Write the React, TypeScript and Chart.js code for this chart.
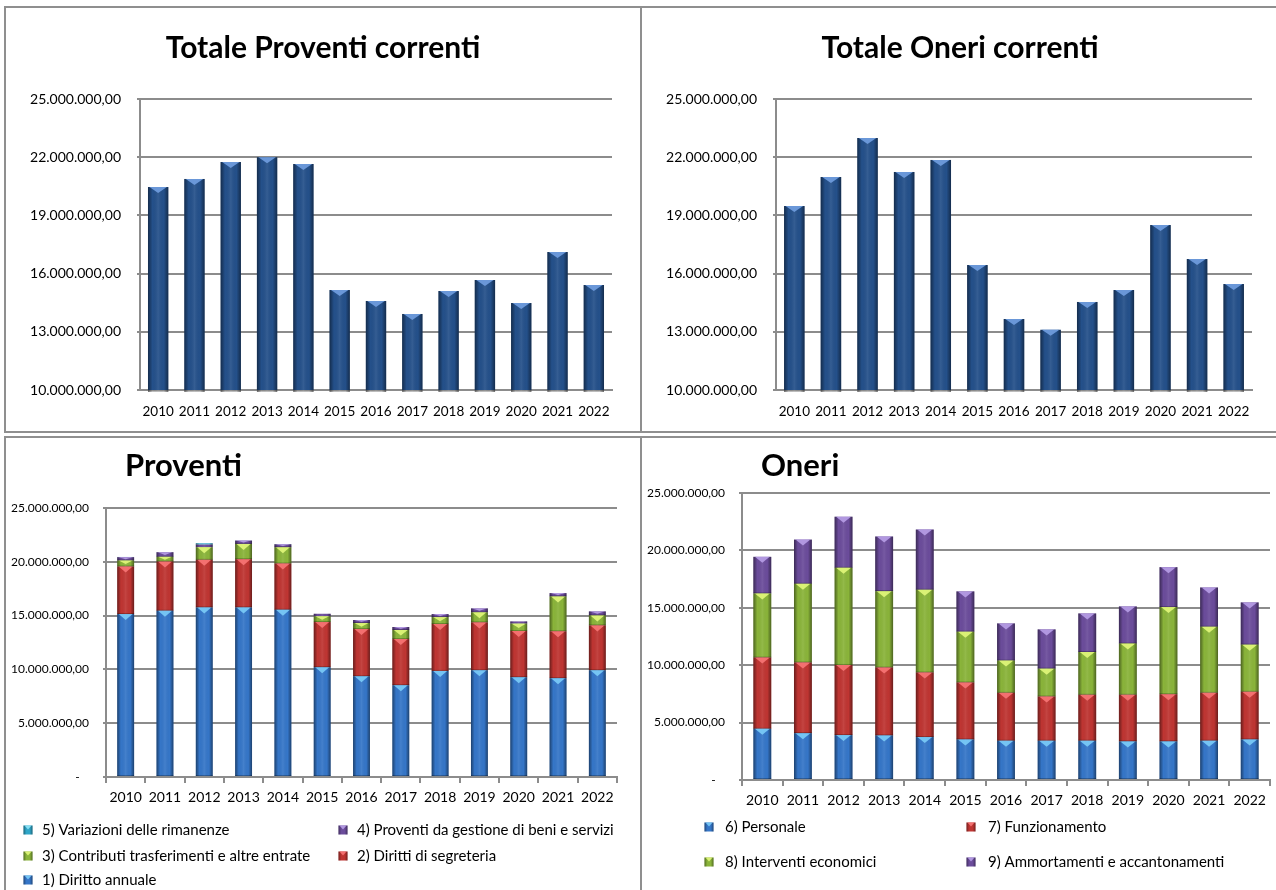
import React, { useEffect, useRef } from "react";
import { Chart, registerables } from "chart.js";

Chart.register(...registerables);
Chart.defaults.font.family = 'Lato, "Open Sans", sans-serif';
Chart.defaults.color = "#000";

// ---------------- DATA ----------------
const YEARS = ["2010", "2011", "2012", "2013", "2014", "2015", "2016", "2017", "2018", "2019", "2020", "2021", "2022"];

const TOTALE_PROVENTI = [20460000, 20880000, 21750000, 22000000, 21650000, 15150000, 14590000, 13920000, 15100000, 15670000, 14480000, 17110000, 15410000];
const TOTALE_ONERI = [19480000, 20980000, 22990000, 21240000, 21860000, 16440000, 13660000, 13100000, 14540000, 15150000, 18500000, 16750000, 15460000];

// Proventi (stacked)
const DIRITTO_ANNUALE = [15140000, 15450000, 15760000, 15760000, 15540000, 10200000, 9360000, 8530000, 9860000, 9920000, 9270000, 9180000, 9920000];
const DIRITTI_SEGRETERIA = [4420000, 4570000, 4420000, 4480000, 4300000, 4200000, 4390000, 4290000, 4360000, 4450000, 4300000, 4360000, 4170000];
const CONTRIBUTI = [560000, 440000, 1170000, 1420000, 1510000, 530000, 560000, 840000, 640000, 930000, 680000, 3240000, 930000];
const PROVENTI_GESTIONE = [310000, 430000, 250000, 310000, 280000, 240000, 280000, 280000, 280000, 370000, 210000, 310000, 370000];
const VARIAZIONI = [20000, 10000, 120000, 10000, 20000, -80000, -80000, -80000, -60000, -60000, -80000, -80000, -60000];

// Oneri (stacked)
const PERSONALE = [4460000, 4080000, 3910000, 3880000, 3740000, 3530000, 3420000, 3420000, 3420000, 3360000, 3360000, 3420000, 3530000];
const FUNZIONAMENTO = [6200000, 6150000, 6110000, 5910000, 5620000, 4960000, 4170000, 3850000, 4000000, 4060000, 4110000, 4170000, 4150000];
const INTERVENTI = [5590000, 6860000, 8460000, 6660000, 7210000, 4430000, 2810000, 2430000, 3730000, 4460000, 7590000, 5760000, 4110000];
const AMMORTAMENTI = [3190000, 3850000, 4460000, 4760000, 5240000, 3510000, 3240000, 3420000, 3360000, 3240000, 3480000, 3420000, 3680000];

// ---------------- STYLE ----------------
const GRID = "#8c8c8c";
const FAMILY = 'Lato, "Open Sans", sans-serif';
const NAVY = "#24508a";
const NAVY_TRI = "rgba(110,155,220,0.95)";
const BLUE = "#3576c8";
const BLUE_TRI = "rgba(120,200,245,0.95)";
const RED = "#bf3532";
const RED_TRI = "rgba(245,115,115,0.95)";
const GREEN = "#8ab43a";
const GREEN_TRI = "rgba(222,244,120,0.95)";
const PURPLE = "#6b4c9b";
const PURPLE_TRI = "rgba(180,155,228,0.95)";
const TEAL = "#2fa6c8";
const TEAL_TRI = "rgba(140,225,245,0.95)";

function itFormat(v: number): string {
  if (Math.abs(v) < 1e-6) return "-   ";
  const s = Math.round(Math.abs(v)).toString().replace(/\B(?=(\d{3})+(?!\d))/g, ".");
  return (v < 0 ? "-" : "") + s + ",00";
}

// bevel look on bars (drawn on the elements computed by Chart.js)
const bevelPlugin = {
  id: "bevel",
  afterDatasetsDraw(chart: any) {
    const ctx = chart.ctx;
    const area = chart.chartArea;
    ctx.save();
    ctx.beginPath();
    ctx.rect(area.left, area.top - 2, area.right - area.left, area.bottom - area.top + 4);
    ctx.clip();
    chart.data.datasets.forEach((ds: any, i: number) => {
      const meta = chart.getDatasetMeta(i);
      if (meta.hidden) return;
      meta.data.forEach((el: any) => {
        const { x, y, base, width } = el.getProps(["x", "y", "base", "width"], true);
        const top = Math.max(Math.min(y, base), area.top - 2);
        const bot = Math.min(Math.max(y, base), area.bottom + 2);
        const h = bot - top;
        if (h < 0.5) return;
        const l = x - width / 2;
        const r = x + width / 2;
        const g = ctx.createLinearGradient(l, 0, r, 0);
        g.addColorStop(0, "rgba(0,0,0,0.45)");
        g.addColorStop(0.22, "rgba(0,0,0,0.0)");
        g.addColorStop(0.5, "rgba(255,255,255,0.08)");
        g.addColorStop(0.78, "rgba(0,0,0,0.0)");
        g.addColorStop(1, "rgba(0,0,0,0.45)");
        ctx.fillStyle = g;
        ctx.fillRect(l, top, width, h);
        if (ds.bevelColor && h > 3 && y <= base) {
          const th = Math.min(6, h * 0.6);
          ctx.fillStyle = ds.bevelColor;
          ctx.beginPath();
          ctx.moveTo(l + 1.5, top);
          ctx.lineTo(r - 1.5, top);
          ctx.lineTo(x, top + th);
          ctx.closePath();
          ctx.fill();
          ctx.fillStyle = "rgba(0,0,0,0.25)";
          ctx.fillRect(l, bot - 1, width, 1);
        }
      });
    });
    ctx.restore();
  },
};

function makeTitle(text: string, x: number, y: number, align: CanvasTextAlign, size: number) {
  return {
    id: "panelTitle",
    afterDraw(chart: any) {
      const ctx = chart.ctx;
      ctx.save();
      ctx.font = `bold ${size}px ${FAMILY}`;
      ctx.fillStyle = "#000";
      ctx.textAlign = align;
      ctx.textBaseline = "middle";
      ctx.fillText(text, x, y);
      ctx.restore();
    },
  };
}

type LegendItem = { ds: number; mx: number; tx: number; y: number };
function makeLegend(items: LegendItem[], size: number) {
  return {
    id: "gridLegend",
    afterDraw(chart: any) {
      const ctx = chart.ctx;
      ctx.save();
      items.forEach((it) => {
        const ds = chart.data.datasets[it.ds];
        const s = 9;
        const l = it.mx - s / 2;
        const t = it.y - s / 2;
        ctx.fillStyle = ds.backgroundColor;
        ctx.fillRect(l, t, s, s);
        const g = ctx.createLinearGradient(l, 0, l + s, 0);
        g.addColorStop(0, "rgba(0,0,0,0.4)");
        g.addColorStop(0.3, "rgba(0,0,0,0)");
        g.addColorStop(0.7, "rgba(0,0,0,0)");
        g.addColorStop(1, "rgba(0,0,0,0.4)");
        ctx.fillStyle = g;
        ctx.fillRect(l, t, s, s);
        ctx.fillStyle = ds.bevelColor;
        ctx.beginPath();
        ctx.moveTo(l + 1, t);
        ctx.lineTo(l + s - 1, t);
        ctx.lineTo(it.mx, t + 4);
        ctx.closePath();
        ctx.fill();
        ctx.font = `${size}px ${FAMILY}`;
        ctx.fillStyle = "#000";
        ctx.textAlign = "left";
        ctx.textBaseline = "middle";
        ctx.fillText(ds.label, it.tx, it.y);
      });
      ctx.restore();
    },
  };
}

function topConfig(title: string, data: number[], padRight: number, yWidth: number): any {
  return {
    type: "bar",
    data: {
      labels: YEARS,
      datasets: [
        {
          label: title,
          data,
          backgroundColor: NAVY,
          bevelColor: NAVY_TRI,
          barPercentage: 0.56,
          categoryPercentage: 1,
        },
      ],
    },
    options: {
      animation: false,
      responsive: false,
      layout: { padding: { top: 89, right: padRight, bottom: 0, left: 0 } },
      plugins: { legend: { display: false }, tooltip: { enabled: false }, title: { display: false } },
      scales: {
        x: {
          grid: { display: false },
          border: { display: true, color: GRID, width: 2 },
          ticks: { font: { size: 13.5 }, padding: 6, maxRotation: 0, autoSkip: false },
          afterFit: (s: any) => {
            s.height = 42;
          },
        },
        y: {
          min: 10000000,
          max: 25000000,
          ticks: { stepSize: 3000000, font: { size: 14 }, padding: 16, callback: (v: any) => itFormat(Number(v)) },
          grid: { color: GRID, lineWidth: 2, tickLength: 3 },
          border: { display: true, color: GRID, width: 2 },
          afterFit: (s: any) => {
            s.width = yWidth;
          },
        },
      },
    },
    plugins: [bevelPlugin, makeTitle(title, 315, 38, "center", 30)],
  };
}

function bottomConfig(
  title: string,
  datasets: any[],
  pad: { top: number; right: number; bottom: number },
  yWidth: number,
  yPad: number,
  barPct: number,
  legend: LegendItem[]
): any {
  return {
    type: "bar",
    data: {
      labels: YEARS,
      datasets: datasets.map((d) => ({ ...d, barPercentage: barPct, categoryPercentage: 1 })),
    },
    options: {
      animation: false,
      responsive: false,
      layout: { padding: { top: pad.top, right: pad.right, bottom: pad.bottom, left: 0 } },
      plugins: { legend: { display: false }, tooltip: { enabled: false }, title: { display: false } },
      scales: {
        x: {
          stacked: true,
          grid: { display: true, drawOnChartArea: false, drawTicks: true, tickLength: 6, color: GRID, lineWidth: 2, offset: true },
          border: { display: true, color: GRID, width: 2 },
          ticks: { font: { size: 14 }, padding: 6, maxRotation: 0, autoSkip: false },
          afterFit: (s: any) => {
            s.height = 28;
          },
        },
        y: {
          stacked: true,
          min: 0,
          max: 25000000,
          ticks: { stepSize: 5000000, font: { size: 12 }, padding: yPad, callback: (v: any) => itFormat(Number(v)) },
          grid: { color: GRID, lineWidth: 2, tickLength: 3 },
          border: { display: true, color: GRID, width: 2 },
          afterFit: (s: any) => {
            s.width = yWidth;
          },
        },
      },
    },
    plugins: [bevelPlugin, makeTitle(title, 117, 27, "left", 31), makeLegend(legend, 15)],
  };
}

function ChartCanvas({ left, top, width, height, config }: { left: number; top: number; width: number; height: number; config: any }) {
  const ref = useRef<HTMLCanvasElement | null>(null);
  useEffect(() => {
    if (!ref.current) return;
    const chart = new Chart(ref.current, config);
    return () => chart.destroy();
  }, []);
  return (
    <canvas
      ref={ref}
      width={width}
      height={height}
      style={{ position: "absolute", left, top, width, height, display: "block" }}
    />
  );
}

function Panel({ left, top, width, height }: { left: number; top: number; width: number; height: number }) {
  return (
    <div
      style={{
        position: "absolute",
        left,
        top,
        width,
        height,
        border: "2px solid #8f8f8f",
        boxSizing: "border-box",
      }}
    />
  );
}

export default function App() {
  const tl = topConfig("Totale Proventi correnti", TOTALE_PROVENTI, 26, 132);
  const tr = topConfig("Totale Oneri correnti", TOTALE_ONERI, 23, 131);

  const bl = bottomConfig(
    "Proventi",
    [
      { label: "1) Diritto annuale", data: DIRITTO_ANNUALE, backgroundColor: BLUE, bevelColor: BLUE_TRI },
      { label: "2) Diritti di segreteria", data: DIRITTI_SEGRETERIA, backgroundColor: RED, bevelColor: RED_TRI },
      { label: "3) Contributi trasferimenti e altre entrate", data: CONTRIBUTI, backgroundColor: GREEN, bevelColor: GREEN_TRI },
      { label: "4) Proventi da gestione di beni e servizi", data: PROVENTI_GESTIONE, backgroundColor: PURPLE, bevelColor: PURPLE_TRI },
      { label: "5) Variazioni delle rimanenze", data: VARIAZIONI, backgroundColor: TEAL, bevelColor: TEAL_TRI },
    ],
    { top: 69, right: 21, bottom: 85 },
    98,
    14,
    0.43,
    [
      { ds: 4, mx: 20, tx: 34, y: 391 },
      { ds: 3, mx: 335, tx: 349, y: 391 },
      { ds: 2, mx: 20, tx: 34, y: 417 },
      { ds: 1, mx: 335, tx: 349, y: 417 },
      { ds: 0, mx: 20, tx: 34, y: 441 },
    ]
  );

  const br = bottomConfig(
    "Oneri",
    [
      { label: "6) Personale", data: PERSONALE, backgroundColor: BLUE, bevelColor: BLUE_TRI },
      { label: "7) Funzionamento", data: FUNZIONAMENTO, backgroundColor: RED, bevelColor: RED_TRI },
      { label: "8) Interventi economici", data: INTERVENTI, backgroundColor: GREEN, bevelColor: GREEN_TRI },
      { label: "9) Ammortamenti e accantonamenti", data: AMMORTAMENTI, backgroundColor: PURPLE, bevelColor: PURPLE_TRI },
    ],
    { top: 54, right: 6, bottom: 82 },
    98,
    14,
    0.44,
    [
      { ds: 0, mx: 65, tx: 81, y: 388 },
      { ds: 1, mx: 327, tx: 344, y: 388 },
      { ds: 2, mx: 65, tx: 81, y: 423 },
      { ds: 3, mx: 327, tx: 344, y: 423 },
    ]
  );

  return (
    <div style={{ position: "absolute", left: 0, top: 0, width: 1276, height: 890, background: "#fff", overflow: "hidden" }}>
      <Panel left={4} top={6} width={638} height={427} />
      <Panel left={640} top={6} width={642} height={427} />
      <Panel left={4} top={436} width={638} height={460} />
      <Panel left={640} top={436} width={642} height={460} />
      <ChartCanvas left={8} top={10} width={630} height={422} config={tl} />
      <ChartCanvas left={645} top={10} width={630} height={422} config={tr} />
      <ChartCanvas left={8} top={439} width={630} height={451} config={bl} />
      <ChartCanvas left={644} top={439} width={632} height={451} config={br} />
    </div>
  );
}
